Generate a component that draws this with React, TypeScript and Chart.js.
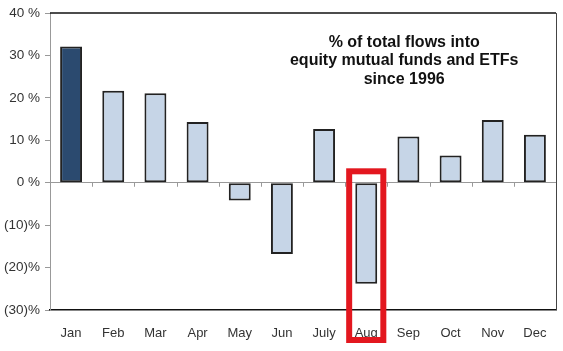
import React, { useEffect, useRef } from "react";
import { Chart, registerables } from "chart.js";

Chart.register(...registerables);

const months = ["Jan", "Feb", "Mar", "Apr", "May", "Jun", "July", "Aug", "Sep", "Oct", "Nov", "Dec"];
const flows = [32.1, 21.7, 21.1, 14.3, -4.2, -16.8, 12.7, -23.8, 10.9, 6.4, 14.8, 11.3];
const titleLines = ["% of total flows into", "equity mutual funds and ETFs", "since 1996"];
const highlightIndex = 7;
const yMin = -30;
const yMax = 40;

const fmt = (v: number) => (v < 0 ? `(${Math.abs(v)})%` : `${v} %`);

export default function App() {
  const ref = useRef<HTMLCanvasElement | null>(null);
  useEffect(() => {
    const canvas = ref.current!;
    const overlay = {
      id: "overlay",
      afterDatasetsDraw(chart: any) {
        const { ctx, chartArea } = chart;
        const x = chart.scales.x;
        const y = chart.scales.y;
        const y0 = y.getPixelForValue(0);
        const step = x.getPixelForValue(1) - x.getPixelForValue(0);
        ctx.save();
        // small ticks at zero line between categories
        ctx.strokeStyle = "#999";
        ctx.lineWidth = 1;
        for (let i = 1; i < months.length; i++) {
          const px = Math.round(x.getPixelForValue(i) - step / 2) + 0.5;
          ctx.beginPath();
          ctx.moveTo(px, y0);
          ctx.lineTo(px, y0 + 4);
          ctx.stroke();
        }
        // top and right borders
        ctx.strokeStyle = "#111";
        ctx.lineWidth = 1.5;
        ctx.beginPath();
        ctx.moveTo(chartArea.left, chartArea.top);
        ctx.lineTo(chartArea.right, chartArea.top);
        ctx.stroke();
        ctx.strokeStyle = "#444";
        ctx.lineWidth = 1;
        ctx.beginPath();
        ctx.moveTo(chartArea.right + 0.5, chartArea.top);
        ctx.lineTo(chartArea.right + 0.5, chartArea.bottom);
        ctx.stroke();
        // title text
        ctx.fillStyle = "#111";
        ctx.font = "bold 16px 'Liberation Sans', Arial, sans-serif";
        ctx.textAlign = "center";
        ctx.textBaseline = "middle";
        const cx = x.getPixelForValue(8) - step * 0.1;
        titleLines.forEach((t, i) => ctx.fillText(t, cx, chartArea.top + 29 + i * 18.5));
        // red highlight box
        const hx = x.getPixelForValue(highlightIndex);
        const half = step * 0.405;
        const topY = y.getPixelForValue(2.7);
        ctx.strokeStyle = "#e3171f";
        ctx.lineWidth = 6;
        ctx.strokeRect(hx - half, topY, half * 2, chartArea.bottom + 30 - topY);
        ctx.restore();
      },
    };
    const chart = new Chart(canvas, {
      type: "bar",
      data: {
        labels: months,
        datasets: [
          {
            data: flows,
            backgroundColor: months.map((_, i) => (i === 0 ? "#2b4a6f" : "#c6d5e7")),
            borderColor: "#222",
            borderWidth: 2,
            borderSkipped: false,
            categoryPercentage: 1,
            barPercentage: 0.52,
          },
        ],
      },
      options: {
        animation: false,
        responsive: false,
        maintainAspectRatio: false,
        layout: { padding: { top: 10, right: 7, left: 0, bottom: 0 } },
        plugins: { legend: { display: false }, tooltip: { enabled: false }, title: { display: false } },
        scales: {
          x: {
            grid: { display: false },
            border: { display: true, color: "#111", width: 1.5 },
            ticks: { color: "#333", padding: 8, font: { family: "'Liberation Sans', Arial, sans-serif", size: 13 } },
            afterFit: (s: any) => { s.height = 41; },
          },
          y: {
            min: yMin,
            max: yMax,
            grid: {
              color: (c: any) => (c.tick && c.tick.value === 0 ? "#999" : "rgba(0,0,0,0)"),
              tickColor: "#999",
              tickLength: 5,
              drawTicks: true,
            },
            border: { display: true, color: "#999", width: 1 },
            ticks: {
              stepSize: 10,
              color: "#333",
              padding: 5,
              font: { family: "'Liberation Sans', Arial, sans-serif", size: 13.5 },
              callback: (v: any) => fmt(Number(v)),
            },
            afterFit: (s: any) => { s.width = 50; },
          },
        },
      },
      plugins: [overlay],
    });
    return () => chart.destroy();
  }, []);
  return (
    <div style={{ position: "fixed", left: 0, top: 0, width: 563, height: 351, background: "#fff" }}>
      <canvas ref={ref} width={563} height={351} style={{ width: 563, height: 351 }} />
    </div>
  );
}
